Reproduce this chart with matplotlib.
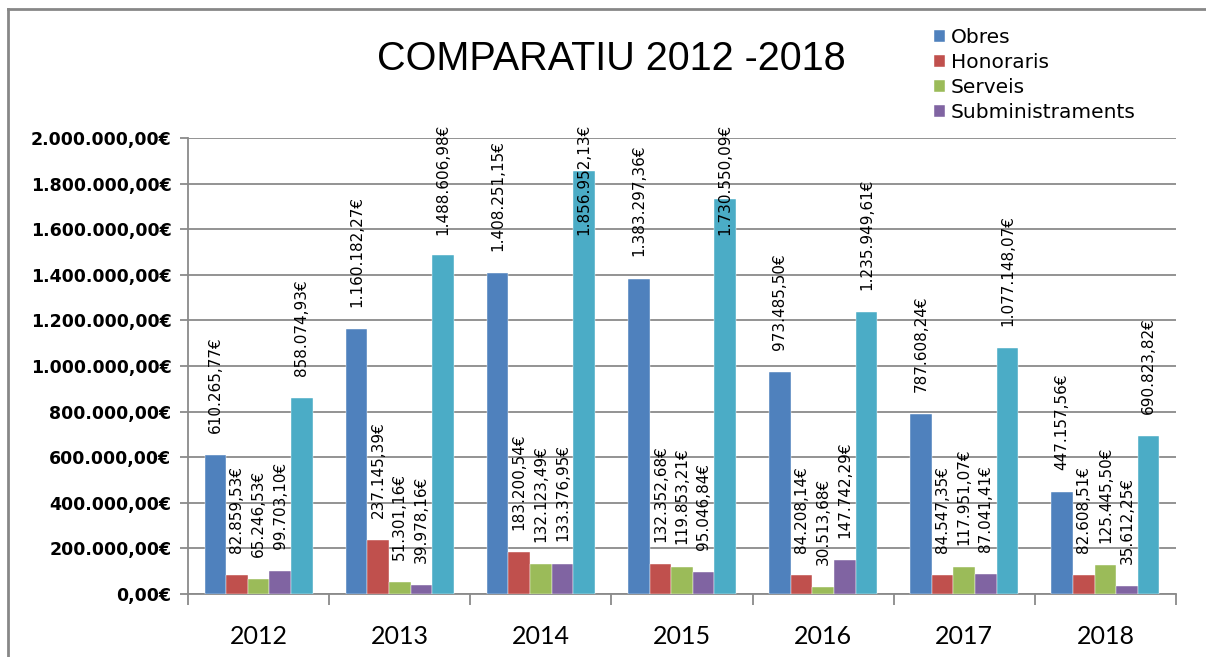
import numpy as np
import matplotlib
matplotlib.use("Agg")
import matplotlib.pyplot as plt
import matplotlib.transforms as mtransforms
from matplotlib.lines import Line2D

years = ["2012", "2013", "2014", "2015", "2016", "2017", "2018"]
obres = [610265.77, 1160182.27, 1408251.15, 1383297.36, 973485.50, 787608.24, 447157.56]
honoraris = [82859.53, 237145.39, 183200.54, 132352.68, 84208.14, 84547.35, 82608.51]
serveis = [65246.53, 51301.16, 132123.49, 119853.21, 30513.68, 117951.07, 125445.50]
subministraments = [99703.10, 39978.16, 133376.95, 95046.84, 147742.29, 87041.41, 35612.25]
total = [858074.93, 1488606.98, 1856952.13, 1730550.09, 1235949.61, 1077148.07, 690823.82]

series = [obres, honoraris, serveis, subministraments, total]
names = ["Obres", "Honoraris", "Serveis", "Subministraments", None]
colors = ["#4F81BD", "#C0504D", "#9BBB59", "#8064A2", "#4BACC6"]


def euro(v):
    s = f"{v:,.2f}"
    return s.replace(",", "X").replace(".", ",").replace("X", ".") + "€"


W, H = 1206, 657
fig = plt.figure(figsize=(W / 100, H / 100), dpi=100)
ax = fig.add_axes([188 / W, 1 - 594 / H, (1176 - 188) / W, 456 / H])

x = np.arange(len(years))
bw = 0.153
labels = []
for i, (vals, name, c) in enumerate(zip(series, names, colors)):
    xs = x + (i - 2) * bw
    ax.bar(xs, vals, width=bw, color=c, label=name if name else "_nolegend_",
           edgecolor="white", linewidth=0.3, zorder=3)
    for xi, v in zip(xs, vals):
        t = ax.annotate(euro(v), (xi, v), xytext=(0, 16), textcoords="offset points",
                        rotation=90, ha="center", va="bottom", fontsize=11,
                        family="DejaVu Sans", annotation_clip=False, zorder=5)
        labels.append((t, xi))

ax.set_xlim(-0.5, len(years) - 0.5)
ax.set_ylim(0, 2000000)
ax.set_yticks(np.arange(0, 2000001, 200000))
ax.set_yticklabels([euro(v) for v in np.arange(0, 2000001, 200000)],
                   fontsize=12.5, fontweight="bold", family="DejaVu Sans")
ax.yaxis.grid(True, color="#8a8a8a", linewidth=1.3, zorder=0)
ax.set_axisbelow(True)

ax.set_xticks(np.arange(-0.5, len(years), 1.0))
ax.set_xticklabels([])
ax.set_xticks(x, minor=True)
ax.set_xticklabels(years, minor=True, fontsize=18, family="Lato")
ax.tick_params(axis="x", which="major", direction="out", length=8, color="#8a8a8a", width=1.3)
ax.tick_params(axis="x", which="minor", length=0, pad=22)
ax.tick_params(axis="y", direction="out", length=6, color="#8a8a8a", width=1.3, pad=6)

for s in ["top", "right"]:
    ax.spines[s].set_visible(False)
for s in ["left", "bottom"]:
    ax.spines[s].set_color("#8a8a8a")
    ax.spines[s].set_linewidth(1.3)

fig.text(611 / W, 1 - 59 / H, "COMPARATIU 2012 -2018", fontsize=28.5,
         family="Liberation Sans", ha="center", va="center")

ax.legend(loc="upper left", bbox_to_anchor=(934 / W, 1 - 28 / H),
          bbox_transform=fig.transFigure, frameon=False,
          prop={"family": "DejaVu Sans", "size": 14.5},
          handlelength=0.55, handleheight=0.55, handletextpad=0.3,
          labelspacing=0.3, borderpad=0, borderaxespad=0)

# keep the value labels inside the chart area, like the original
fig.canvas.draw()
top_limit = H - 124
trans = mtransforms.blended_transform_factory(ax.transData, fig.transFigure)
for t, xi in labels:
    bb = t.get_window_extent()
    if bb.y1 > top_limit:
        txt = t.get_text()
        t.remove()
        ax.text(xi, top_limit / H, txt, transform=trans, rotation=90,
                ha="center", va="top", fontsize=11, family="DejaVu Sans",
                clip_on=False, zorder=5)

# outer frame of the chart
fig.add_artist(Line2D([7.5 / W, 7.5 / W], [0, 1 - 9 / H], transform=fig.transFigure,
                      color="#878787", linewidth=2))
fig.add_artist(Line2D([7.5 / W, 1], [1 - 9 / H, 1 - 9 / H], transform=fig.transFigure,
                      color="#878787", linewidth=2))

fig.savefig("out.png", dpi=100)
